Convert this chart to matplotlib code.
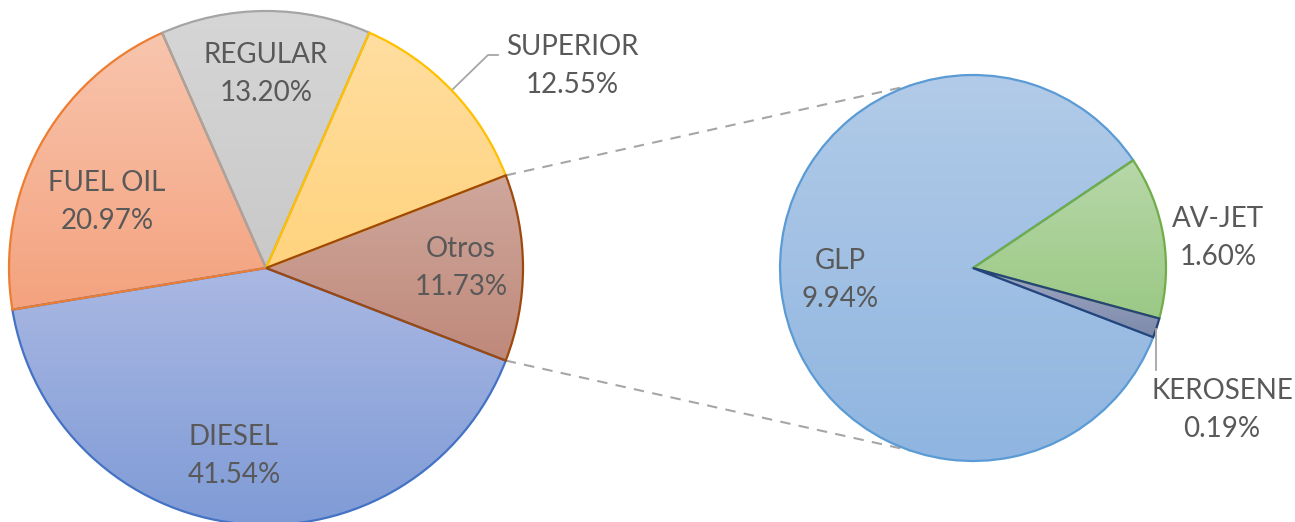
import numpy as np
import matplotlib
matplotlib.use("Agg")
import matplotlib.pyplot as plt
from matplotlib.colors import LinearSegmentedColormap

# main pie (Otros gets split into the small pie)
main_labels = ["Otros", "SUPERIOR", "REGULAR", "FUEL OIL", "DIESEL"]
main_values = [11.73, 12.55, 13.20, 20.97, 41.54]
sub_labels = ["KEROSENE", "AV-JET", "GLP"]
sub_values = [0.19, 1.60, 9.94]

main_colors = [("#cfa79c", "#bf897b"), ("#ffdea0", "#ffd37e"), ("#d6d6d6", "#c9c9c9"),
               ("#f8c5ae", "#f4a27e"), ("#aab8e3", "#7f9bd6")]
main_edges = ["#9e480e", "#ffc000", "#a5a5a5", "#ed7d31", "#4472c4"]
sub_colors = [("#a0a8c2", "#7d8aab"), ("#b7d7a8", "#9bc985"), ("#b2cbe8", "#8fb5e0")]
sub_edges = ["#264478", "#70ad47", "#5b9bd5"]

W, H = 1295, 522
fig = plt.figure(figsize=(W / 100, H / 100), dpi=100)
ax = fig.add_axes([0, 0, 1, 1])

main_c, main_r = (266, H - 268), 257
sub_c, sub_r = (973, H - 268), 193


def gradient_pie(values, center, radius, start, fills, edges):
    wedges, _ = ax.pie(values, center=center, radius=radius, startangle=start,
                       counterclock=True, frame=True,
                       wedgeprops=dict(linewidth=1.6))
    grad = np.linspace(0, 1, 256).reshape(-1, 1)
    n = len(wedges)
    for i, (w, (top, bot), ec) in enumerate(zip(wedges, fills, edges)):
        bb = w.get_path().get_extents()
        cmap = LinearSegmentedColormap.from_list("g", [top, bot])
        im = ax.imshow(grad, cmap=cmap, aspect="auto", origin="upper",
                       extent=[bb.x0, bb.x1, bb.y0, bb.y1], zorder=1)
        im.set_clip_path(w)
        w.set_facecolor("none")
        w.set_edgecolor(ec)
        # first slices keep their outline on top
        w.set_zorder(2 + (n - i) * 0.01)
    return wedges


main_start = -main_values[0] / sum(main_values) * 360 / 2
gradient_pie(main_values, main_c, main_r, main_start, main_colors, main_edges)
gradient_pie(sub_values, sub_c, sub_r, -21, sub_colors, sub_edges)

# connector lines between the pies
for a_main, a_sub in [(-main_start, 109), (main_start, -109)]:
    x0 = main_c[0] + main_r * np.cos(np.radians(a_main))
    y0 = main_c[1] + main_r * np.sin(np.radians(a_main))
    x1 = sub_c[0] + sub_r * np.cos(np.radians(a_sub))
    y1 = sub_c[1] + sub_r * np.sin(np.radians(a_sub))
    ax.plot([x0, x1], [y0, y1], color="#a6a6a6", lw=1.5, ls=(0, (5, 4)), zorder=0)

# leader lines
ax.plot([453, 488, 498], [H - 89, H - 55, H - 55], color="#a6a6a6", lw=1.3, zorder=3)
ax.plot([1156, 1156], [H - 329, H - 370], color="#a6a6a6", lw=1.3, zorder=3)

# labels: (x, baseline of first line) in pixel coords
label_pos = {
    "Otros": (461, 257), "SUPERIOR": (572, 55), "REGULAR": (266, 63),
    "FUEL OIL": (107, 191), "DIESEL": (234, 445),
    "KEROSENE": (1222, 399), "AV-JET": (1218, 227), "GLP": (840, 269),
}
txt = dict(color="#595959", fontsize=20, family=["Lato", "DejaVu Sans"],
           ha="center", va="baseline", zorder=5)
for name, val in list(zip(main_labels, main_values)) + list(zip(sub_labels, sub_values)):
    x, yb = label_pos[name]
    ax.text(x, H - yb, name, **txt)
    ax.text(x, H - yb - 38, f"{val:.2f}%", **txt)

ax.set_xlim(0, W)
ax.set_ylim(0, H)
ax.set_aspect("auto")
ax.set_axis_off()
fig.savefig("out.png", dpi=100)
